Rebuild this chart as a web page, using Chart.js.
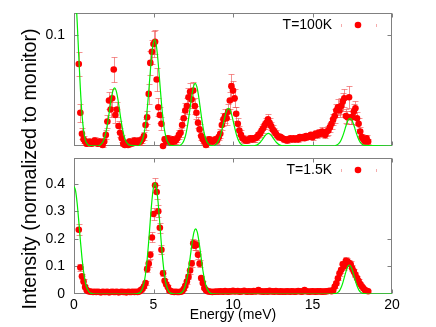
<!DOCTYPE html>
<html>
<head>
<meta charset="utf-8">
<script src="https://cdn.jsdelivr.net/npm/chart.js@4.4.1/dist/chart.umd.min.js"></script>
<style>
  body { margin: 0; background: #fff; }
  #wrap { position: relative; width: 436px; height: 327px; overflow: hidden; font-family: 'Liberation Sans', Arial, sans-serif; }
  canvas { position: absolute; left: 0; }
  #bottomChart { top: 150px; }
  #topChart { top: 0; }
  #ylabel { position: absolute; left: -131px; top: 157px; width: 320px; height: 24px; line-height: 24px;
            text-align: center; font-size: 19.5px; color: #000; white-space: nowrap; transform: rotate(-90deg); }
</style>
</head>
<body>
<div id="wrap">
  <canvas id="bottomChart" width="436" height="177"></canvas>
  <canvas id="topChart" width="436" height="160"></canvas>
  <div id="ylabel"><span id="ytext">Intensity (normalized to monitor)</span></div>
</div>
<script>
// measured energies (meV), shared by both temperatures
const energy = [0.3,0.4,0.5,0.6,0.7,0.8,0.9,
  1.0,1.1,1.2,1.3,1.4,1.5,1.6,1.7,1.8,1.9,
  2.0,2.1,2.2,2.3,2.4,2.5,2.6,2.7,2.8,2.9,
  3.0,3.1,3.2,3.3,3.4,3.5,3.6,3.7,3.8,3.9,
  4.0,4.1,4.2,4.3,4.4,4.5,4.6,4.7,4.8,4.9,
  5.0,5.1,5.2,5.3,5.4,5.5,5.6,5.7,5.8,5.9,
  6.0,6.1,6.2,6.3,6.4,6.5,6.6,6.7,6.8,6.9,
  7.0,7.1,7.2,7.3,7.4,7.5,7.6,7.7,7.8,7.9,
  8.0,8.1,8.2,8.3,8.4,8.5,8.6,8.7,8.8,8.9,
  9.0,9.1,9.2,9.3,9.4,9.5,9.6,9.7,9.8,9.9,
  10.0,10.1,10.2,10.3,10.4,10.5,10.6,10.7,10.8,10.9,
  11.0,11.1,11.2,11.3,11.4,11.5,11.6,11.7,11.8,11.9,
  12.0,12.1,12.2,12.3,12.4,12.5,12.6,12.7,12.8,12.9,
  13.0,13.1,13.2,13.3,13.4,13.5,13.6,13.7,13.8,13.9,
  14.0,14.1,14.2,14.3,14.4,14.5,14.6,14.7,14.8,14.9,
  15.0,15.1,15.2,15.3,15.4,15.5,15.6,15.7,15.8,15.9,
  16.0,16.1,16.2,16.3,16.4,16.5,16.6,16.7,16.8,16.9,
  17.0,17.1,17.2,17.3,17.4,17.5,17.6,17.7,17.8,17.9,
  18.0,18.1,18.2,18.3,18.4,18.5];

// T=100K
const int100 = [.074,.030,.011,.006,.004,.002,.003,
  .004,.002,.003,.005,.003,.002,.004,.003,.001,.004,
  .010,.022,.041,.033,.043,.069,.028,.033,.018,.012,
  .007,.002,.001,.003,.001,.004,.002,.003,.005,.004,
  .003,.005,.004,.006,.009,.019,.026,.047,.075,.085,
  .092,.094,.060,.035,.028,.020,.000,.006,.004,.007,
  .005,.003,.006,.004,.005,.007,.010,.012,.019,.025,
  .032,.036,.044,.049,.042,.050,.036,.030,.021,.015,
  .009,.006,.004,.001,.003,.006,.005,.004,.005,.006,
  .005,.008,.011,.019,.024,.027,.025,.031,.041,.054,
  .050,.043,.029,.020,.014,.010,.007,.006,.005,.005,
  .006,.007,.006,.007,.007,.008,.010,.011,.014,.016,
  .019,.021,.024,.021,.018,.015,.013,.011,.009,.008,
  .008,.007,.006,.006,.005,.006,.007,.006,.007,.006,
  .007,.006,.008,.007,.008,.007,.009,.008,.009,.010,
  .008,.010,.011,.010,.012,.011,.013,.012,.010,.013,
  .014,.017,.020,.024,.027,.032,.035,.032,.036,.040,
  .043,.027,.026,.044,.026,.026,.031,.034,.025,.020,
  .013,.008,.006,.004,.007,.004];
const err100 = [.011,.008,.005,.003,.003,.002,.002,
  .002,.002,.002,.003,.002,.002,.003,.002,.002,.003,
  .004,.006,.008,.007,.008,.011,.007,.007,.005,.004,
  .003,.002,.002,.002,.002,.003,.002,.002,.003,.002,
  .002,.003,.003,.003,.004,.005,.006,.009,.011,.011,
  .012,.011,.010,.008,.007,.006,.002,.003,.002,.003,
  .003,.002,.003,.002,.003,.003,.004,.004,.005,.006,
  .007,.007,.008,.008,.008,.008,.007,.006,.005,.005,
  .004,.003,.002,.002,.002,.003,.003,.002,.003,.003,
  .003,.003,.004,.005,.006,.006,.006,.007,.008,.011,
  .009,.008,.006,.005,.004,.004,.003,.003,.002,.002,
  .002,.003,.002,.003,.003,.003,.003,.003,.004,.004,
  .004,.004,.005,.004,.004,.004,.003,.003,.003,.003,
  .002,.002,.002,.002,.002,.002,.002,.002,.002,.002,
  .002,.002,.003,.002,.003,.002,.003,.002,.003,.003,
  .003,.003,.003,.003,.003,.003,.004,.003,.003,.004,
  .004,.004,.005,.005,.006,.006,.007,.006,.007,.008,
  .008,.006,.006,.010,.006,.006,.007,.007,.006,.005,
  .004,.003,.002,.002,.003,.002];

// T=1.5K
const int15 = [.233,.096,.064,.045,.025,.014,.010,
  .009,.008,.007,.008,.007,.008,.007,.006,.008,.007,
  .007,.008,.006,.007,.008,.007,.007,.008,.006,.007,
  .008,.007,.007,.006,.008,.007,.007,.008,.007,.008,
  .007,.009,.014,.018,.027,.040,.090,.110,.142,.205,
  .290,.394,.370,.300,.240,.160,.075,.048,.035,.025,
  .013,.010,.008,.007,.008,.007,.007,.008,.010,.018,
  .030,.045,.062,.085,.111,.184,.175,.178,.142,.110,
  .058,.040,.022,.014,.010,.009,.008,.007,.008,.008,
  .009,.008,.010,.009,.008,.011,.009,.008,.010,.009,
  .012,.009,.010,.011,.008,.009,.010,.012,.009,.008,
  .010,.009,.008,.011,.009,.010,.014,.009,.010,.008,
  .009,.010,.008,.012,.009,.010,.008,.011,.009,.008,
  .010,.008,.009,.008,.010,.009,.008,.010,.009,.008,
  .009,.011,.010,.008,.009,.014,.010,.009,.008,.009,
  .010,.009,.008,.010,.009,.010,.008,.009,.009,.010,
  .011,.012,.010,.014,.027,.039,.057,.075,.087,.108,
  .100,.120,.118,.112,.108,.093,.082,.070,.058,.047,
  .036,.028,.021,.014,.012,.010];
const err15 = [.020,.012,.010,.008,.006,.005,.004,
  .004,.004,.004,.004,.004,.004,.004,.004,.004,.004,
  .004,.004,.004,.004,.004,.004,.004,.004,.004,.004,
  .004,.004,.004,.004,.004,.004,.004,.004,.004,.004,
  .004,.004,.005,.005,.006,.008,.012,.013,.015,.018,
  .022,.025,.024,.022,.019,.016,.011,.008,.007,.006,
  .004,.004,.004,.004,.004,.004,.004,.004,.004,.005,
  .006,.008,.009,.011,.013,.017,.016,.017,.015,.013,
  .009,.007,.005,.004,.004,.004,.004,.004,.004,.004,
  .004,.004,.004,.004,.004,.004,.004,.004,.004,.004,
  .004,.004,.004,.004,.004,.004,.004,.004,.004,.004,
  .004,.004,.004,.004,.004,.004,.005,.004,.004,.004,
  .004,.004,.004,.004,.004,.004,.004,.004,.004,.004,
  .004,.004,.004,.004,.004,.004,.004,.004,.004,.004,
  .004,.004,.004,.004,.004,.005,.004,.004,.004,.004,
  .004,.004,.004,.004,.004,.004,.004,.004,.004,.004,
  .004,.004,.004,.005,.006,.007,.008,.010,.011,.012,
  .012,.013,.013,.012,.012,.011,.010,.009,.008,.007,
  .006,.005,.005,.004,.004,.004];

// fitted curves (green)
const fitE100 = [0,0.1,0.2,0.3,0.4,0.5,0.6,0.7,0.8,0.9,1.0,1.5,
  1.65,1.75,1.85,1.95,2.05,2.15,2.25,2.35,2.45,2.55,2.65,2.75,2.85,2.95,3.05,3.15,3.25,3.35,3.45,
  4.1,4.17,4.27,4.37,4.47,4.57,4.67,4.77,4.87,4.97,5.07,5.17,5.27,5.37,5.47,5.57,5.67,5.77,5.87,5.97,6.07,
  6.6,6.72,6.82,6.92,7.02,7.12,7.22,7.32,7.42,7.52,7.62,7.72,7.82,7.92,8.02,8.12,8.22,8.32,8.42,8.52,8.62,
  8.8,8.92,9.02,9.12,9.22,9.32,9.42,9.52,9.62,9.72,9.82,9.92,10.02,10.12,10.22,10.32,10.42,10.52,10.62,
  11.3,11.42,11.52,11.62,11.72,11.82,11.92,12.02,12.12,12.22,12.32,12.42,12.52,12.62,12.72,12.82,12.92,13.02,13.12,
  16.4,16.46,16.56,16.66,16.76,16.86,16.96,17.06,17.16,17.26,17.36,17.46,17.56,17.66,17.76,17.86,17.96,18.06,18.16,18.26,
  20];
const fit100 = [0.144,0.135,0.112,0.081,0.052,0.029,0.0146,0.0063,0.0024,0.0008,0.0003,0,
  .001,.0023,.0048,.009,.0155,.024,.0339,.0432,.050,.0525,.050,.0432,.0339,.024,.0155,.009,.0048,.0023,.001,
  0,.0018,.0042,.0088,.0165,.0283,.044,.062,.079,.0914,.096,.0914,.079,.062,.044,.0283,.0165,.0088,.0042,.0018,.0007,
  0,.0011,.0025,.0052,.0097,.0167,.0259,.0364,.0465,.0538,.0565,.0538,.0465,.0364,.0259,.0167,.0097,.0052,.0025,.0011,.0004,
  0,.0015,.0031,.0058,.010,.0156,.0219,.028,.0324,.034,.0324,.028,.0219,.0156,.010,.0058,.0031,.0015,.0006,
  0,.0005,.001,.002,.0034,.0052,.0074,.0094,.0109,.0114,.0109,.0094,.0074,.0052,.0034,.002,.001,.0005,.0002,
  0,.0005,.0011,.0023,.0043,.0074,.0114,.0161,.0206,.0238,.025,.0238,.0206,.0161,.0114,.0074,.0043,.0023,.0011,.0005,
  0];
const fitE15 = [0,0.1,0.2,0.3,0.4,0.5,0.6,0.7,0.8,0.9,1.0,1.1,1.2,1.5,
  3.7,3.99,4.09,4.19,4.29,4.39,4.49,4.59,4.69,4.79,4.89,4.99,5.09,5.19,5.29,5.39,5.49,5.59,5.69,5.79,5.89,5.99,6.09,6.19,
  6.37,
  6.55,6.65,6.75,6.85,6.95,7.05,7.15,7.25,7.35,7.45,7.55,7.65,7.75,7.85,7.95,8.05,8.15,8.25,8.35,8.45,8.55,8.65,8.75,
  9.0,16.2,
  16.42,16.52,16.62,16.72,16.82,16.92,17.02,17.12,17.22,17.32,17.42,17.52,17.62,17.72,17.82,17.92,18.02,18.12,18.22,
  18.5,20];
const fit15 = [.39,.374,.328,.264,.195,.132,.082,.047,.0245,.0118,.0051,.0021,.0008,0,
  0,.0011,.0031,.0077,.0177,.037,.069,.119,.185,.26,.332,.384,.403,.384,.332,.26,.185,.119,.069,.037,.0177,.0077,.0031,.0011,
  0,
  .0006,.0018,.0045,.0104,.0216,.041,.070,.108,.152,.194,.225,.236,.225,.194,.152,.108,.070,.041,.0216,.0104,.0045,.0018,.0006,
  0,0,
  .0012,.003,.0069,.0142,.026,.043,.064,.084,.099,.105,.099,.084,.064,.043,.026,.0142,.0069,.003,.0012,
  0,0];

const xTicks = [0, 5, 10, 15, 20];
const yTicks100 = [0.1];
const yTicks15 = [0, 0.1, 0.2, 0.3, 0.4];

const FONT = "'Liberation Sans', Arial, sans-serif";
const RED = '#ff0000';
const BAR = 'rgba(236,70,70,0.6)';
const GREEN = '#00f000';
const FRAME = '#808080';

// the axis title runs from about y=28 to y=310
const ytext = document.getElementById('ytext');
document.getElementById('ylabel').style.fontSize = (19.5 * 282 / ytext.offsetWidth) + 'px';

function points(xs, ys, es) {
  return xs.map((x, i) => ({ x: x, y: ys[i], e: es ? es[i] : 0 }));
}

// vertical error bars with small caps, drawn under the points
const errorBars = {
  id: 'errorBars',
  beforeDatasetsDraw(chart) {
    const { ctx, chartArea: a, scales } = chart;
    chart.data.datasets.forEach(ds => {
      if (!ds.errorBars) return;
      ctx.save();
      ctx.beginPath();
      ctx.rect(a.left, a.top - 2, a.right - a.left, a.bottom - a.top + 4);
      ctx.clip();
      ctx.strokeStyle = BAR;
      ctx.lineWidth = 1;
      ctx.beginPath();
      ds.data.forEach(p => {
        const px = Math.round(scales.x.getPixelForValue(p.x)) + 0.5;
        const y1 = Math.round(scales.y.getPixelForValue(p.y + p.e)) + 0.5;
        const y2 = Math.round(scales.y.getPixelForValue(p.y - p.e)) + 0.5;
        ctx.moveTo(px, y1); ctx.lineTo(px, y2);
        ctx.moveTo(px - 3, y1); ctx.lineTo(px + 3, y1);
        ctx.moveTo(px - 3, y2); ctx.lineTo(px + 3, y2);
      });
      ctx.stroke();
      ctx.restore();
    });
  }
};

// gnuplot style border with inward ticks on all four sides
const frame = {
  id: 'frame',
  beforeDatasetsDraw(chart, args, opts) {
    const { ctx, chartArea: a, scales } = chart;
    const L = Math.round(a.left) + 0.5, R = Math.round(a.right) - 0.5;
    const T = Math.round(a.top) + 0.5, B = Math.round(a.bottom) - 0.5;
    ctx.save();
    ctx.strokeStyle = FRAME;
    ctx.lineWidth = 1;
    ctx.strokeRect(L, T, R - L, B - T);
    ctx.beginPath();
    xTicks.forEach(v => {
      const x = Math.round(scales.x.getPixelForValue(v)) + 0.5;
      ctx.moveTo(x, T); ctx.lineTo(x, T + 4);
      ctx.moveTo(x, B); ctx.lineTo(x, B - 4);
    });
    opts.left.forEach(v => {
      const y = Math.round(scales.y.getPixelForValue(v)) + 0.5;
      ctx.moveTo(L, y); ctx.lineTo(L + 4, y);
    });
    opts.right.forEach(v => {
      const y = Math.round(scales.y.getPixelForValue(v)) + 0.5;
      ctx.moveTo(R, y); ctx.lineTo(R - 4, y);
    });
    ctx.stroke();
    ctx.restore();
  }
};

// key in the top right corner: label, then the point with faint bar ends
const keyLegend = {
  id: 'keyLegend',
  afterDatasetsDraw(chart) {
    const { ctx, chartArea: a } = chart;
    const ds = chart.data.datasets.find(d => d.errorBars);
    const y = a.top + 12;
    const dotX = a.right - 34;
    ctx.save();
    ctx.font = '14px ' + FONT;
    ctx.fillStyle = '#000';
    ctx.textAlign = 'right';
    ctx.textBaseline = 'middle';
    ctx.fillText(ds.label, dotX - 26, y);
    ctx.fillStyle = 'rgba(236,90,90,0.5)';
    ctx.fillRect(dotX - 17, y - 1, 1, 3);
    ctx.fillRect(dotX + 18, y - 1, 1, 3);
    ctx.fillStyle = RED;
    ctx.beginPath();
    ctx.arc(dotX, y, 3.3, 0, Math.PI * 2);
    ctx.fill();
    ctx.restore();
  }
};

function makeChart(id, label, xs, ys, es, fx, fy, yMax, yTicks, rightTicks, bottom) {
  return new Chart(document.getElementById(id).getContext('2d'), {
    type: 'scatter',
    data: {
      datasets: [{
        label: 'fit',
        data: points(fx, fy),
        showLine: true,
        borderColor: GREEN,
        borderWidth: 1.2,
        pointRadius: 0,
        cubicInterpolationMode: 'monotone',
        order: 0
      }, {
        label: label,
        data: points(xs, ys, es),
        errorBars: true,
        pointRadius: 3.3,
        pointBackgroundColor: RED,
        pointBorderWidth: 0,
        clip: false,
        order: 1
      }]
    },
    options: {
      responsive: false,
      animation: false,
      devicePixelRatio: 1,
      layout: { padding: bottom ? { left: 0, right: 44, top: 8, bottom: 0 } : { left: 0, right: 44, top: 13, bottom: 14 } },
      plugins: {
        legend: { display: false },
        tooltip: { enabled: false },
        frame: { left: yTicks.filter(v => v > 0), right: rightTicks }
      },
      scales: {
        x: {
          type: 'linear',
          min: 0, max: 20,
          display: bottom,
          afterBuildTicks: s => { s.ticks = xTicks.map(v => ({ value: v })); },
          afterFit: s => { s.height = bottom ? 33 : 0; s.paddingLeft = 0; s.paddingRight = 0; },
          grid: { display: false, drawTicks: false },
          border: { display: false },
          ticks: { padding: 3, color: '#000', font: { size: 14, family: FONT }, maxRotation: 0, callback: v => String(v) },
          title: { display: true, text: 'Energy (meV)', color: '#000', font: { size: 14, family: FONT }, padding: { top: 0, bottom: 3 } }
        },
        y: {
          type: 'linear',
          min: 0, max: yMax,
          afterBuildTicks: s => { s.ticks = yTicks.map(v => ({ value: v })); },
          afterFit: s => { s.width = 74; s.paddingTop = 0; s.paddingBottom = 0; },
          grid: { display: false, drawTicks: false },
          border: { display: false },
          ticks: { padding: 9, color: '#000', font: { size: 14, family: FONT }, callback: v => String(v) }
        }
      }
    },
    plugins: [frame, errorBars, keyLegend]
  });
}

makeChart('topChart', 'T=100K', energy, int100, err100, fitE100, fit100, 0.12, yTicks100, [0.1], false);
makeChart('bottomChart', 'T=1.5K', energy, int15, err15, fitE15, fit15, 0.493, yTicks15, [0.1, 0.2], true);
</script>
</body>
</html>
